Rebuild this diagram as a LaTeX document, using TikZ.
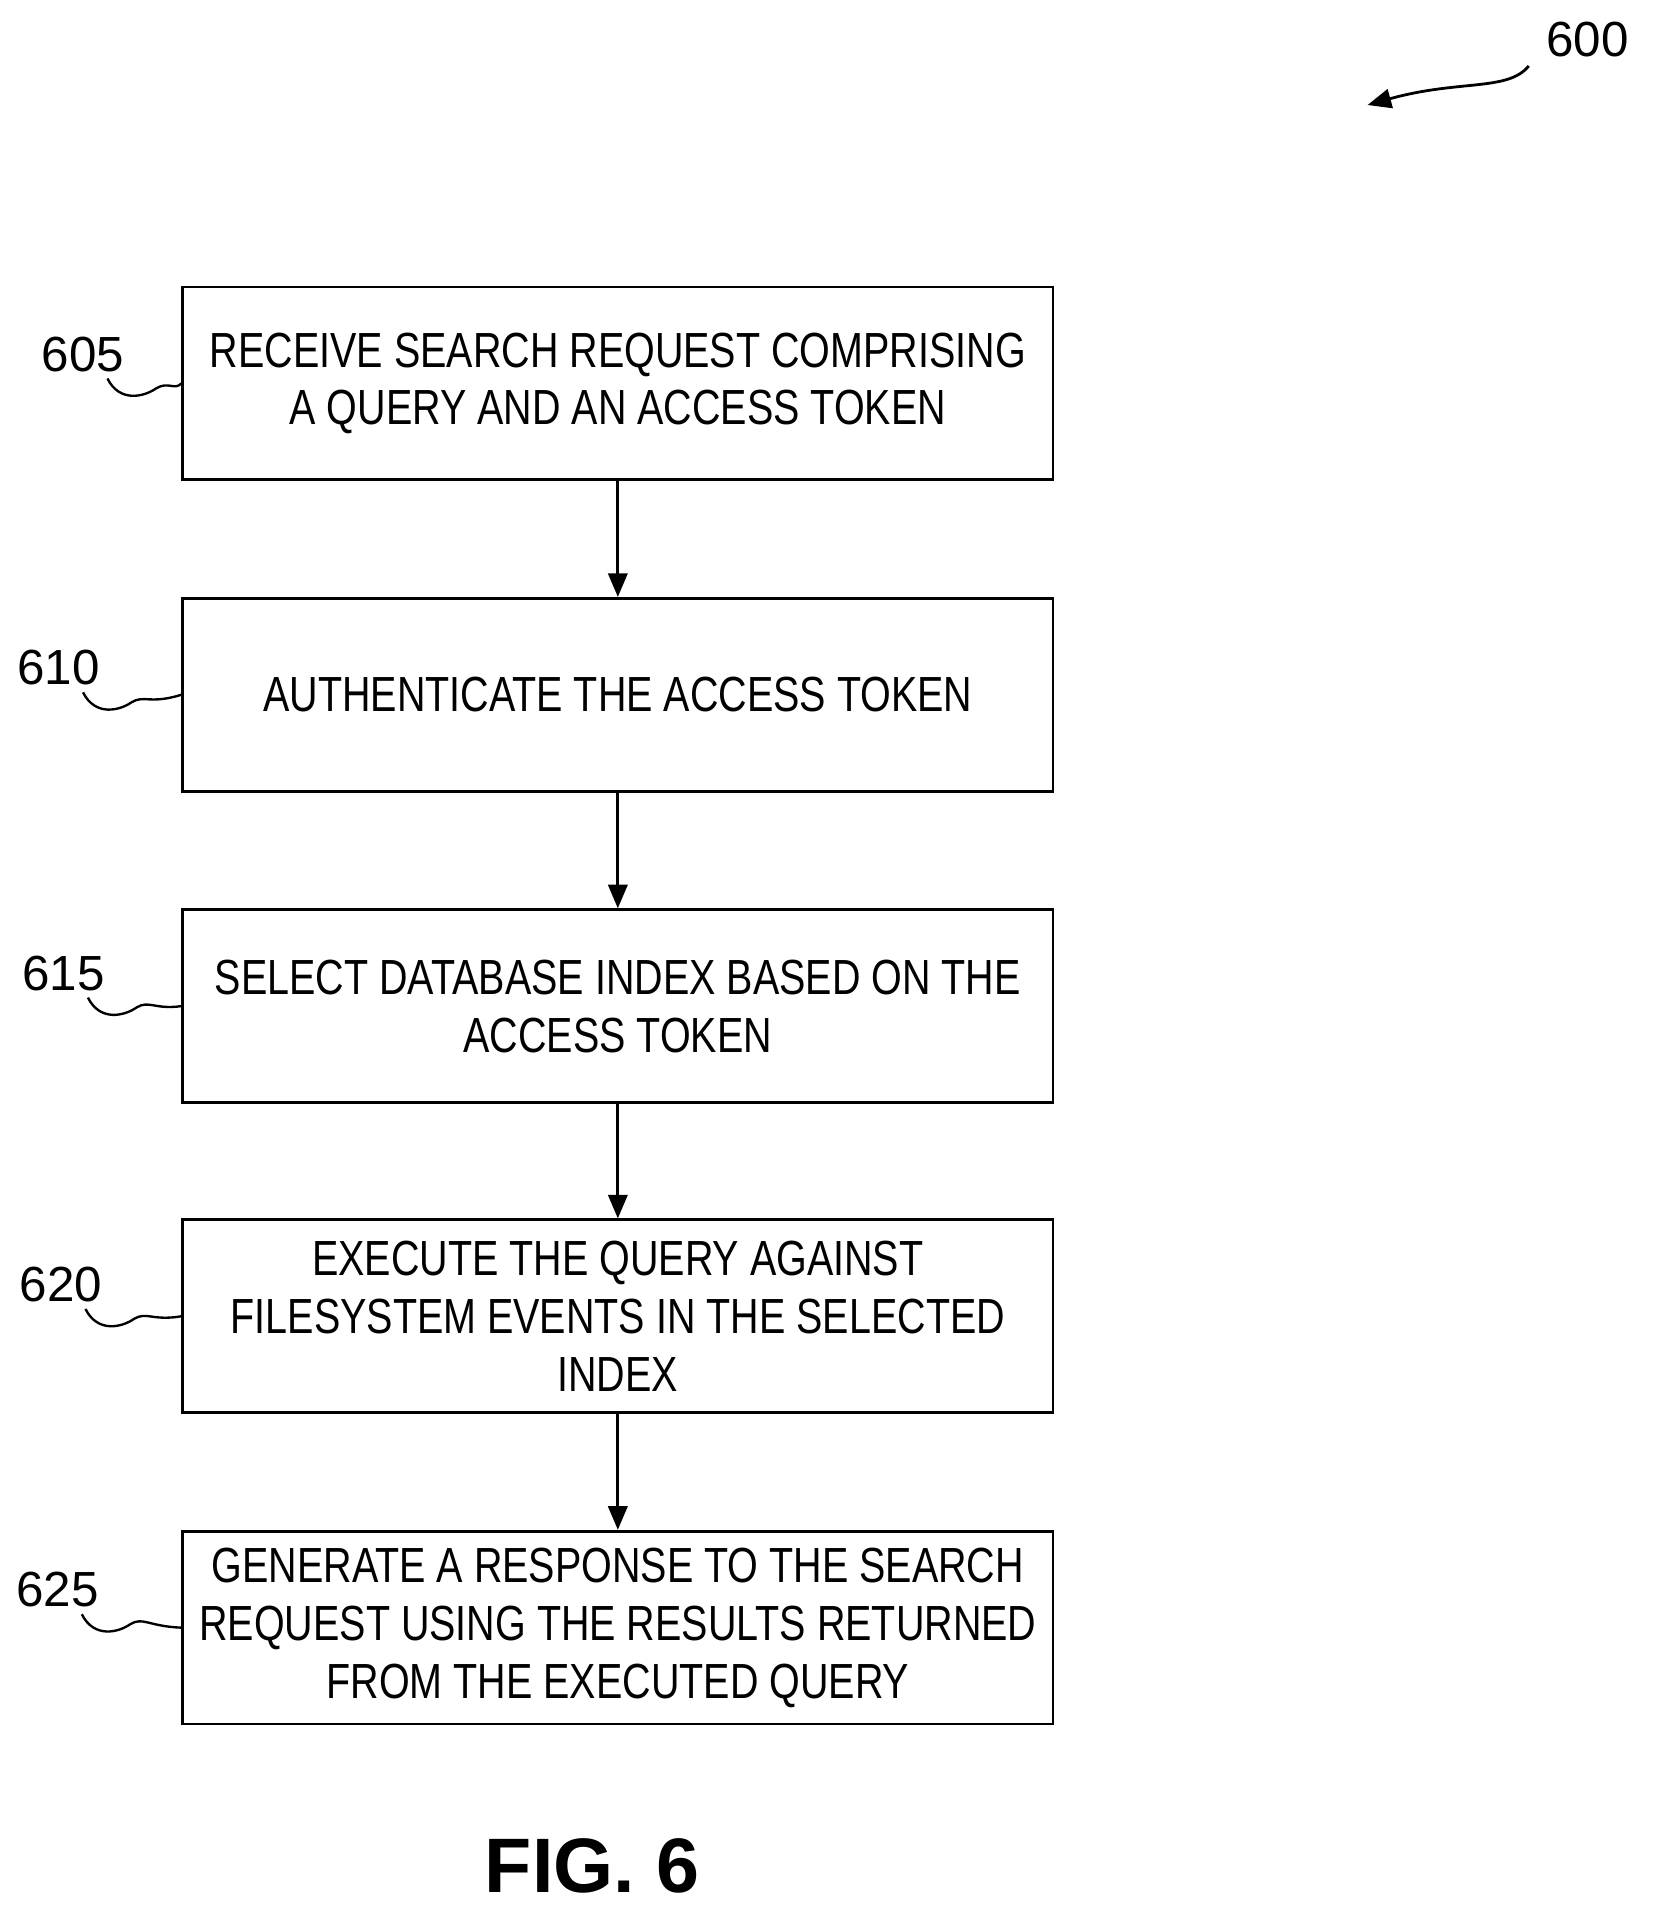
\documentclass[tikz,border=0pt]{standalone}
\usepackage{fontspec}
\setmainfont{Liberation Sans}
\newfontfamily\stepfont[FakeStretch=0.8]{Liberation Sans}
\usetikzlibrary{positioning,arrows.meta}
\begin{document}
\begin{tikzpicture}[x=0.02cm,y=-0.02cm,
    stepbox/.style={draw,line width=1.3pt,minimum width=14.26cm,minimum height=3.16cm,
      align=center,font=\stepfont\fontsize{23}{27}\selectfont,inner sep=2pt},
    flow/.style={line width=1.3pt,-{Triangle[length=11pt,width=9pt]}},
    ref/.style={font=\fontsize{23}{27}\selectfont},
    squig/.style={line width=1.1pt}]
  \useasboundingbox (0,0) rectangle (1357,1579);
  % steps
  \node[stepbox] (s605) at (506,314) {RECEIVE SEARCH REQUEST COMPRISING\\A QUERY AND AN ACCESS TOKEN};
  \node[stepbox] (s610) at (506,569) {AUTHENTICATE THE ACCESS TOKEN};
  \node[stepbox] (s615) at (506,824) {SELECT DATABASE INDEX BASED ON THE\\ACCESS TOKEN};
  \node[stepbox] (s620) at (506,1078) {EXECUTE THE QUERY AGAINST\\FILESYSTEM EVENTS IN THE SELECTED\\INDEX};
  \node[stepbox] (s625) at (506,1333) {GENERATE A RESPONSE TO THE SEARCH\\REQUEST USING THE RESULTS RETURNED\\FROM THE EXECUTED QUERY};
  \draw[flow] (s605) -- (s610);
  \draw[flow] (s610) -- (s615);
  \draw[flow] (s615) -- (s620);
  \draw[flow] (s620) -- (s625);
  % reference numerals
  \foreach \n/\lx/\ly in {605/68/290,610/48/547,615/52/797,620/50/1052,625/47/1302}{
    \node[ref] (l\n) at (\lx,\ly) {\n};
    \draw[squig] (\lx+20,\ly+20) .. controls (\lx+30,\ly+40) and (\lx+50,\ly+35)
      .. (\lx+60,\ly+28) .. controls (\lx+70,\ly+22) and (\lx+75,\ly+30) .. (s\n.west);
  }
  \node[ref] (l600) at (1300,32) {600};
  \coordinate (a600) at (1120,86);
  \draw[line width=1.3pt,-{Triangle[length=11pt,width=9pt]}] (1252,54)
    .. controls (1235,75) and (1195,65) .. (a600);
  \node[font=\bfseries\fontsize{36}{42}\selectfont] (fig) at (485,1528) {FIG. 6};
\end{tikzpicture}
\end{document}
